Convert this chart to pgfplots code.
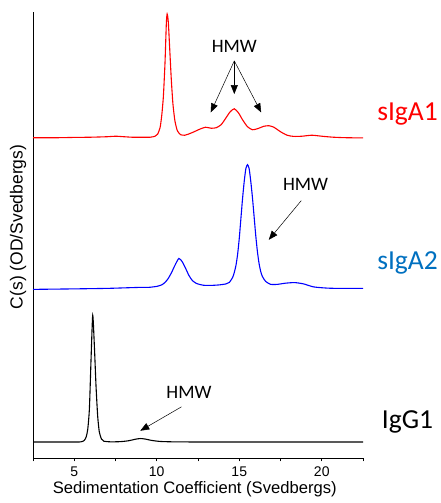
\documentclass[border=0pt]{standalone}
\usepackage{fontspec}
\setmainfont{Liberation Sans}
\newfontfamily\calfont{Carlito}
\usepackage{pgfplots}
\pgfplotsset{compat=1.18}
\usetikzlibrary{arrows.meta}
\definecolor{igablue}{RGB}{0,112,192}

% traces, y in plot units (stacked offsets already included)
\pgfplotstableread{
s y
2.5 321
4.0 321
5.0 321.3
6.0 321.5
7.0 322
7.5 322.5
8.0 322
8.5 321.5
9.0 321.5
9.6 321.5
9.9 322.5
10.05 324.5
10.2 331
10.3 343
10.4 362
10.5 396
10.58 435
10.63 445
10.7 437
10.78 412
10.88 380
10.98 355
11.1 338
11.25 328
11.45 324
11.7 323.5
11.9 324.5
12.2 326.5
12.6 329.5
12.95 331.5
13.3 330.5
13.6 331
13.9 334
14.2 341
14.45 347
14.7 350
14.95 346
15.2 339
15.5 332
15.8 329
16.1 330
16.5 332.5
16.8 333
17.1 331.5
17.5 327
17.9 323.5
18.3 322.3
18.8 322.5
19.4 323.5
20.0 322.5
20.7 321.5
21.5 321
22.5 320.8
}\sigaone

\pgfplotstableread{
s y
2.5 169
5.0 169.5
7.0 170
8.0 170.5
9.0 171
9.5 171
10.0 172
10.3 173.5
10.5 176
10.7 180
10.9 186
11.1 193
11.34 200
11.55 196.5
11.75 190
11.95 183
12.15 178
12.4 175
12.8 173.2
13.3 173
13.8 173.5
14.2 174.5
14.4 176
14.6 181
14.7 186
14.8 193
14.9 204
15.0 220
15.1 240
15.2 260
15.3 277
15.4 290
15.5 294
15.6 290
15.7 277
15.8 261
15.9 242
16.0 223
16.1 207
16.2 195
16.3 187
16.4 182
16.6 177
16.9 174
17.3 174
17.8 175.2
18.35 175.8
18.9 174.5
19.5 171.5
20.3 170.3
21.0 170
22.5 170
}\sigatwo

\pgfplotstableread{
s y
2.5 16
5.0 16
5.4 16.2
5.6 17.5
5.72 21
5.82 29
5.92 50
6.02 100
6.12 143
6.22 112
6.32 72
6.42 42
6.52 26
6.65 19
6.8 16.8
7.2 16.2
7.8 16.4
8.3 17.3
8.7 18.8
9.0 19.5
9.3 19
9.7 17.6
10.2 16.6
11.0 16.2
13.0 16
15.0 16
22.5 16
}\iggone

\begin{document}
\begin{tikzpicture}
\useasboundingbox (-33pt,-45pt) rectangle (408pt,458pt);
\begin{axis}[
    scale only axis, width=330pt, height=446pt,
    xmin=2.5, xmax=22.5, ymin=0, ymax=447,
    axis x line=bottom, axis y line=left,
    axis line style={-, black, line width=0.8pt},
    xtick={5,10,15,20},
    minor xtick={2.5,7.5,12.5,17.5,22.5},
    ytick=\empty,
    tick align=outside,
    major tick length=3.5pt, minor tick length=3.5pt,
    tick style={black, line width=0.6pt},
    /pgf/number format/assume math mode=true,
    xticklabel style={font=\fontsize{14}{16}\selectfont, inner sep=0pt, yshift=-5pt},
    xlabel={Sedimentation Coefficient (Svedbergs)},
    xlabel style={font=\fontsize{16.6}{19}\selectfont, at={(axis description cs:0.49,0)}, anchor=center, yshift=-31pt},
    ylabel={C(s) (OD/Svedbergs)},
    ylabel style={font=\fontsize{17.5}{20}\selectfont, at={(axis description cs:-0.045,0.518)}, anchor=center},
    clip=false,
]
\addplot[red, line width=1.1pt, smooth, tension=0.4] table[x=s,y=y] {\sigaone};
\addplot[blue, line width=1.1pt, smooth, tension=0.4] table[x=s,y=y] {\sigatwo};
\addplot[black, line width=1.1pt, smooth, tension=0.4] table[x=s,y=y] {\iggone};

% annotations
\node[font=\calfont\fontsize{19}{22}\selectfont] at (axis cs:14.7,413) {HMW};
\draw[line width=0.5pt, -{Triangle[length=9pt,width=7pt]}] (axis cs:14.7,398) -- (axis cs:13.27,346.3);
\draw[line width=0.5pt, -{Triangle[length=9pt,width=7pt]}] (axis cs:14.7,398) -- (axis cs:14.7,364.7);
\draw[line width=0.5pt, -{Triangle[length=9pt,width=7pt]}] (axis cs:14.7,398) -- (axis cs:16.33,346.3);

\node[font=\calfont\fontsize{19}{22}\selectfont] at (axis cs:19.02,274.7) {HMW};
\draw[line width=0.5pt, -{Triangle[length=9pt,width=7pt]}] (axis cs:18.76,258) -- (axis cs:16.79,218.7);

\node[font=\calfont\fontsize{19}{22}\selectfont] at (axis cs:11.95,65.3) {HMW};
\draw[line width=0.5pt, -{Triangle[length=9pt,width=7pt]}] (axis cs:11.5,51.3) -- (axis cs:9.0,27.3);

\node[font=\calfont\fontsize{27.5}{30}\selectfont, text=red] at (axis cs:25.2,345) {sIgA1};
\node[font=\calfont\fontsize{27.5}{30}\selectfont, text=igablue] at (axis cs:25.2,195) {sIgA2};
\node[font=\calfont\fontsize{27.5}{30}\selectfont, text=black] at (axis cs:25.2,36.3) {IgG1};
\end{axis}
\end{tikzpicture}
\end{document}
